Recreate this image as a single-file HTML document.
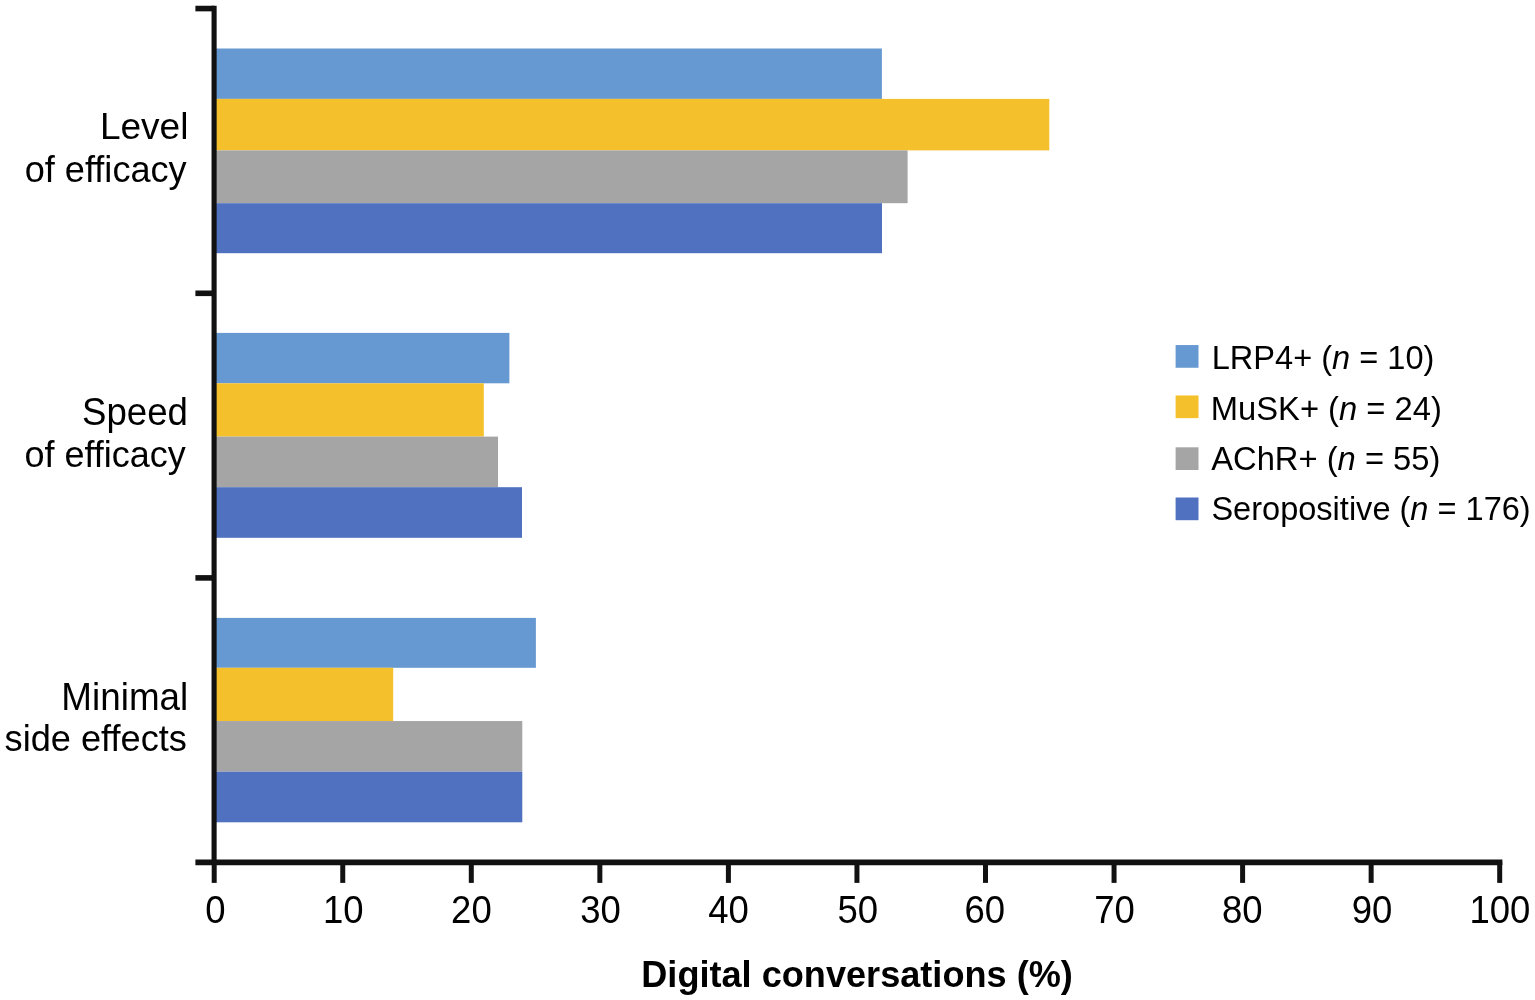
<!DOCTYPE html>
<html><head><meta charset="utf-8"><style>
html,body{margin:0;padding:0;background:#fff;width:1535px;height:1000px;overflow:hidden}
svg{display:block}
text{font-family:"Liberation Sans",Arial,sans-serif;fill:#000}
</style></head><body>
<svg width="1535" height="1000" viewBox="0 0 1535 1000">
<g>
<rect x="214" y="48.50" width="667.90" height="50.40" fill="#6699D2"/>
<rect x="214" y="98.90" width="835.30" height="51.50" fill="#F4C12D"/>
<rect x="214" y="150.40" width="693.60" height="52.80" fill="#A5A5A5"/>
<rect x="214" y="203.20" width="668.00" height="50.00" fill="#4F71BF"/>
<rect x="214" y="332.90" width="295.40" height="50.40" fill="#6699D2"/>
<rect x="214" y="383.30" width="269.80" height="53.30" fill="#F4C12D"/>
<rect x="214" y="436.60" width="284.00" height="50.60" fill="#A5A5A5"/>
<rect x="214" y="487.20" width="308.00" height="50.60" fill="#4F71BF"/>
<rect x="214" y="617.90" width="321.90" height="49.90" fill="#6699D2"/>
<rect x="214" y="667.80" width="179.20" height="53.25" fill="#F4C12D"/>
<rect x="214" y="721.05" width="308.30" height="50.65" fill="#A5A5A5"/>
<rect x="214" y="771.70" width="308.30" height="50.60" fill="#4F71BF"/>
</g>
<g>
<line x1="214.1" y1="5.7" x2="214.1" y2="865" stroke="#111" stroke-width="5.1"/>
<line x1="195.4" y1="8.55" x2="214" y2="8.55" stroke="#111" stroke-width="5.6"/>
<line x1="195.4" y1="293.3" x2="214" y2="293.3" stroke="#111" stroke-width="5.6"/>
<line x1="195.4" y1="577.9" x2="214" y2="577.9" stroke="#111" stroke-width="5.6"/>
<line x1="195.4" y1="862.3" x2="1502.4" y2="862.3" stroke="#111" stroke-width="5.8"/>
<line x1="214.20" y1="862" x2="214.20" y2="882.9" stroke="#111" stroke-width="5"/>
<line x1="342.75" y1="862" x2="342.75" y2="882.9" stroke="#111" stroke-width="5"/>
<line x1="471.30" y1="862" x2="471.30" y2="882.9" stroke="#111" stroke-width="5"/>
<line x1="599.85" y1="862" x2="599.85" y2="882.9" stroke="#111" stroke-width="5"/>
<line x1="728.40" y1="862" x2="728.40" y2="882.9" stroke="#111" stroke-width="5"/>
<line x1="856.95" y1="862" x2="856.95" y2="882.9" stroke="#111" stroke-width="5"/>
<line x1="985.50" y1="862" x2="985.50" y2="882.9" stroke="#111" stroke-width="5"/>
<line x1="1114.05" y1="862" x2="1114.05" y2="882.9" stroke="#111" stroke-width="5"/>
<line x1="1242.60" y1="862" x2="1242.60" y2="882.9" stroke="#111" stroke-width="5"/>
<line x1="1371.15" y1="862" x2="1371.15" y2="882.9" stroke="#111" stroke-width="5"/>
<line x1="1499.70" y1="862" x2="1499.70" y2="882.9" stroke="#111" stroke-width="5"/>
</g>
<g>
<rect x="1175.6" y="345.05" width="22.9" height="22.7" fill="#6699D2"/>
<rect x="1175.6" y="395.45" width="22.9" height="22.7" fill="#F4C12D"/>
<rect x="1175.6" y="447.3" width="22.9" height="22.7" fill="#A5A5A5"/>
<rect x="1175.6" y="497.5" width="22.9" height="22.7" fill="#4F71BF"/>
</g>
<g>
<text id="tk0" transform="translate(215.50 922.60) scale(1.0000 1.0400)" font-size="36.5" text-anchor="middle">0</text>
<text id="tk1" transform="translate(343.27 922.60) scale(1.0000 1.0400)" font-size="36.5" text-anchor="middle">10</text>
<text id="tk2" transform="translate(471.39 922.60) scale(1.0000 1.0400)" font-size="36.5" text-anchor="middle">20</text>
<text id="tk3" transform="translate(600.47 922.60) scale(1.0000 1.0400)" font-size="36.5" text-anchor="middle">30</text>
<text id="tk4" transform="translate(728.47 922.60) scale(1.0000 1.0400)" font-size="36.5" text-anchor="middle">40</text>
<text id="tk5" transform="translate(857.74 922.60) scale(1.0000 1.0400)" font-size="36.5" text-anchor="middle">50</text>
<text id="tk6" transform="translate(984.67 922.60) scale(1.0000 1.0400)" font-size="36.5" text-anchor="middle">60</text>
<text id="tk7" transform="translate(1114.54 922.60) scale(1.0000 1.0400)" font-size="36.5" text-anchor="middle">70</text>
<text id="tk8" transform="translate(1242.34 922.60) scale(1.0000 1.0400)" font-size="36.5" text-anchor="middle">80</text>
<text id="tk9" transform="translate(1372.07 922.60) scale(1.0000 1.0400)" font-size="36.5" text-anchor="middle">90</text>
<text id="tk10" transform="translate(1499.89 922.60) scale(1.0000 1.0400)" font-size="36.5" text-anchor="middle">100</text>
<text id="c0a" transform="translate(188.47 139.20) scale(1.0153 1.0000)" font-size="36.5" text-anchor="end">Level</text>
<text id="c0b" transform="translate(186.65 182.40) scale(0.9898 1.0000)" font-size="36.5" text-anchor="end">of efficacy</text>
<text id="c1a" transform="translate(187.91 425.00) scale(1.0034 1.0500)" font-size="36.5" text-anchor="end">Speed</text>
<text id="c1b" transform="translate(185.88 466.80) scale(0.9867 1.0000)" font-size="36.5" text-anchor="end">of efficacy</text>
<text id="c2a" transform="translate(188.23 709.90) scale(1.0091 1.0750)" font-size="36.5" text-anchor="end">Minimal</text>
<text id="c2b" transform="translate(186.89 751.00) scale(0.9915 1.0000)" font-size="36.5" text-anchor="end">side effects</text>
<text id="lg0" transform="translate(1211.70 368.50) scale(1.0028 1.0000)" font-size="32.5" text-anchor="start">LRP4+ (<tspan font-style="italic">n</tspan> = 10)</text>
<text id="lg1" transform="translate(1210.75 420.20) scale(1.0076 1.0000)" font-size="32.5" text-anchor="start">MuSK+ (<tspan font-style="italic">n</tspan> = 24)</text>
<text id="lg2" transform="translate(1211.20 470.20) scale(1.0069 1.0000)" font-size="32.5" text-anchor="start">AChR+ (<tspan font-style="italic">n</tspan> = 55)</text>
<text id="lg3" transform="translate(1211.40 520.00) scale(1.0016 1.0000)" font-size="32.5" text-anchor="start">Seropositive (<tspan font-style="italic">n</tspan> = 176)</text>
<text id="title" transform="translate(857.05 987.25) scale(0.9766 1.0150)" font-size="37" font-weight="bold" text-anchor="middle">Digital conversations (%)</text>
</g>
</svg>
</body></html>
